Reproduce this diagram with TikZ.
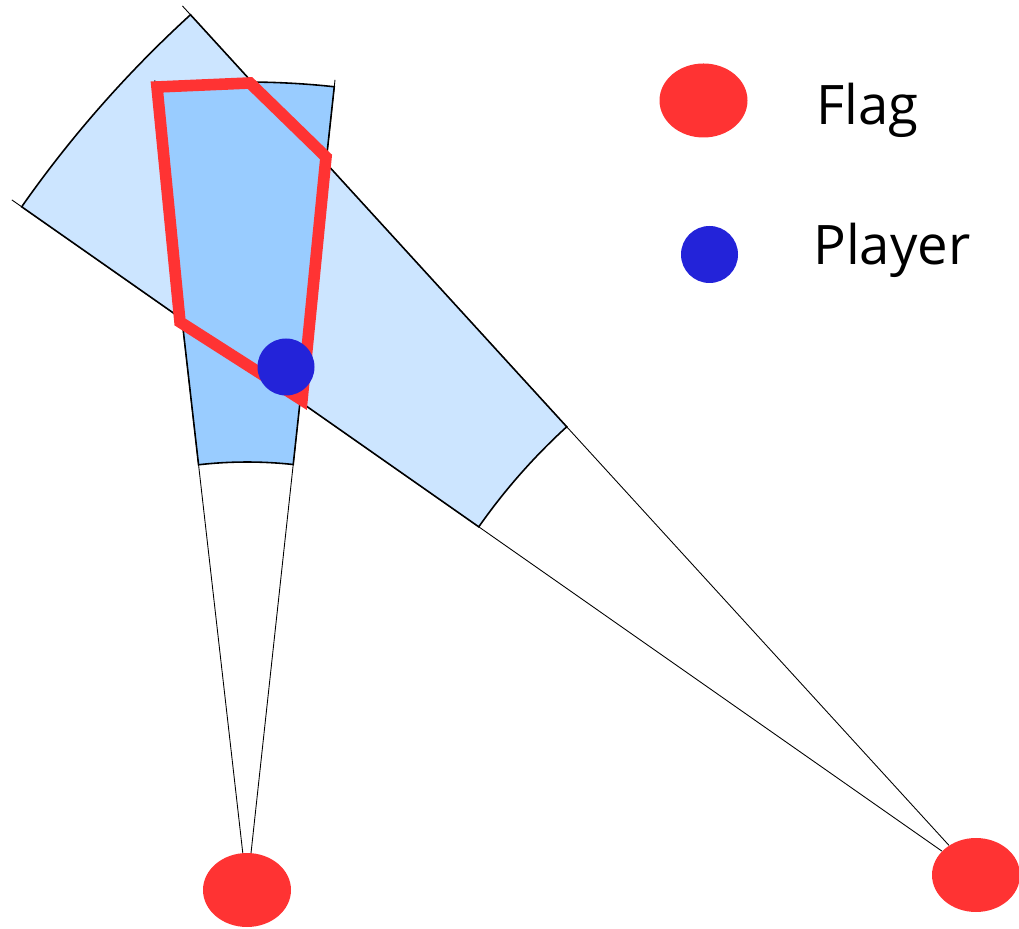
\documentclass[tikz,border=0pt]{standalone}
\usepackage{fontspec}
\setsansfont{Open Sans}
\usetikzlibrary{calc,shapes.geometric}
\definecolor{flagred}{HTML}{FF3333}
\definecolor{playerblue}{HTML}{2323D9}
\definecolor{farblue}{HTML}{CCE5FF}
\definecolor{nearblue}{HTML}{99CCFF}

\begin{document}
\begin{tikzpicture}[
  flag/.style={ellipse,fill=flagred,inner sep=0pt,minimum width=1.76cm,
    minimum height=1.48cm},
  player/.style={circle,fill=playerblue,inner sep=0pt,minimum size=1.14cm},
  ray/.style={draw=black,line width=0.5pt},
  zone/.style={draw=black,line width=0.9pt},
  area/.style={draw=flagred,line width=6.6pt,line join=miter},
  key/.style={anchor=base west,inner sep=0pt,
    font=\sffamily\fontsize{31}{37}\selectfont}
]
  \useasboundingbox (0,0) rectangle (20.38,18.56);
  \node[flag] (flagA) at (4.94,0.76) {};
  \node[flag] (flagB) at (19.52,1.06) {};

  % wedge of the right flag
  \coordinate (bL) at ($(flagB)+(145:23.54)$);
  \coordinate (bR) at ($(flagB)+(132.4:23.54)$);
  \draw[ray] (flagB) -- (bL);
  \draw[ray] (flagB) -- (bR);
  \filldraw[zone,fill=farblue] ($(flagB)+(132.4:12.14)$)
    arc[start angle=132.4,end angle=145,radius=12.14]
    -- ($(flagB)+(145:23.3)$)
    arc[start angle=145,end angle=132.4,radius=23.3] -- cycle;

  % wedge of the left flag
  \coordinate (aL) at ($(flagA)+(96.5:16.3)$);
  \coordinate (aR) at ($(flagA)+(83.8:16.3)$);
  \draw[ray] (flagA) -- (aL);
  \draw[ray] (flagA) -- (aR);
  \filldraw[zone,fill=nearblue] ($(flagA)+(83.8:8.56)$)
    arc[start angle=83.8,end angle=96.5,radius=8.56]
    -- ($(flagA)+(96.5:16.16)$)
    arc[start angle=96.5,end angle=83.8,radius=16.16] -- cycle;

  % where the player may stand
  \draw[area] (3.14,16.82) -- (5.00,16.90) -- (6.52,15.42) -- (6.04,10.56)
    -- (3.60,12.12) -- cycle;
  \node[player] (me) at (5.72,11.22) {};

  % legend
  \node[flag] (keyFlag) at (14.07,16.55) {};
  \node[player] (keyPlayer) at (14.19,13.47) {};
  \node[key] (keyFlagText) at (16.32,16.06) {Flag};
  \node[key] (keyPlayerText) at (16.26,13.26) {Player};
\end{tikzpicture}
\end{document}
